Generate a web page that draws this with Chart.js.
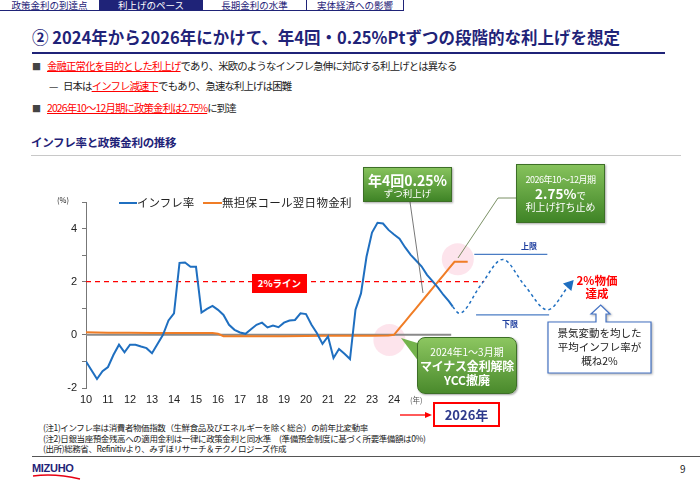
<!DOCTYPE html>
<html>
<head>
<meta charset="utf-8">
<script src="https://cdn.jsdelivr.net/npm/chart.js@4/dist/chart.umd.min.js"></script>
<style>
  html, body { margin: 0; padding: 0; background: #fff; }
  body { width: 700px; height: 485px; position: relative; overflow: hidden;
         font-family: "Noto Sans CJK JP", "Noto Sans", sans-serif; color: #222; }
  .t { position: absolute; white-space: nowrap; line-height: 1; }
  .tab { position: absolute; top: 0; height: 11px; border-right: 1px solid #1f2378; border-bottom: 1px solid #1f2378;
         font-size: 9.5px; line-height: 11px; color: #1f2378; text-align: center; box-sizing: border-box; }
  .tab.on { background: #1f2378; color: #fff; }
  .red { color: #ff0000; text-decoration: underline; text-decoration-color: #ff0000; }
  .green { position: absolute; box-sizing: border-box; color: #fff; text-align: center;
           background: linear-gradient(#86c25c, #3f8426); border: 1px solid #3d6f27;
           box-shadow: 1px 1px 2px rgba(0,0,0,0.35); }
  #chart { position: absolute; left: 0; top: 0; z-index: 1; }
  #over { position: absolute; left: 0; top: 0; z-index: 2; }
  .ov { z-index: 3; }
</style>
</head>
<body>
<!-- header tabs -->
<div class="tab" style="left:0;width:100px;">政策金利の到達点</div>
<div class="tab on" style="left:100px;width:103px;">利上げのペース</div>
<div class="tab" style="left:203px;width:104px;">長期金利の水準</div>
<div class="tab" style="left:307px;width:97px;">実体経済への影響</div>

<!-- title -->
<div class="t" style="left:32px;top:29px;font-size:16.5px;font-weight:bold;color:#1f2378;letter-spacing:0px;">② 2024年から2026年にかけて、年4回・0.25%Ptずつの段階的な利上げを想定</div>
<div style="position:absolute;left:32px;top:52px;width:633px;height:2px;background:#1f2378;"></div>

<!-- bullets -->
<div class="t" style="left:32px;top:61.5px;font-size:9px;color:#444;">■</div>
<div class="t" style="left:47px;top:61px;font-size:10.4px;letter-spacing:-0.85px;"><span class="red">金融正常化を目的とした利上げ</span>であり、米欧のようなインフレ急伸に対応する利上げとは異なる</div>
<div class="t" style="left:49px;top:81px;font-size:10.4px;color:#444;">—</div>
<div class="t" style="left:63px;top:81px;font-size:10.4px;letter-spacing:-0.85px;">日本は<span class="red">インフレ減速下</span>でもあり、急速な利上げは困難</div>
<div class="t" style="left:32px;top:103.5px;font-size:9px;color:#444;">■</div>
<div class="t" style="left:47px;top:102.5px;font-size:10.4px;letter-spacing:-0.85px;"><span class="red">2026年10～12月期に政策金利は2.75%</span>に到達</div>

<!-- section heading -->
<div class="t" style="left:31px;top:137px;font-size:11.5px;font-weight:bold;color:#1f2378;letter-spacing:-0.3px;">インフレ率と政策金利の推移</div>
<div style="position:absolute;left:31px;top:155px;width:650px;height:1px;background:#c8c8c8;"></div>

<canvas id="chart" width="700" height="485"></canvas>

<svg id="over" width="700" height="485">
  <!-- leader lines -->
  <line x1="410" y1="202" x2="423" y2="293" stroke="#555" stroke-width="0.8"/>
  <polyline points="516,198 498,198 458,258" fill="none" stroke="#58743e" stroke-width="0.8"/>
  <!-- YCC callout pointer -->
  <polygon points="401,338 424,345 419,362" fill="#74b34c"/>
  <!-- up-arrow callout -->
  <path d="M548,322 L596,322 L596,314 L591,314 L600.7,305 L610,314 L606,314 L606,322 L651,322 L651,373 L548,373 Z"
        fill="#fff" stroke="#4472c4" stroke-width="1.2" style="filter:drop-shadow(1px 1px 1px rgba(0,0,0,0.3))"/>
  <!-- 2026 arrow -->
  <line x1="400" y1="415" x2="426" y2="415" stroke="#ff0000" stroke-width="1.3"/>
  <polygon points="432,415 425,412 425,418" fill="#ff0000"/>
  <!-- logo swoosh -->
  <path d="M33,476 Q55,473 80,479" fill="none" stroke="#e60012" stroke-width="1.3"/>
</svg>

<!-- chart overlays -->
<div class="t ov" style="left:57px;top:196px;font-size:7.5px;">(%)</div>
<div class="ov" style="position:absolute;left:119px;top:202px;width:18px;height:2px;background:#1f6fc0;"></div>
<div class="t ov" style="left:137px;top:196.5px;font-size:11.5px;">インフレ率</div>
<div class="ov" style="position:absolute;left:203px;top:202px;width:19px;height:2px;background:#f07d26;"></div>
<div class="t ov" style="left:222px;top:196.5px;font-size:11.5px;letter-spacing:0.3px;">無担保コール翌日物金利</div>

<div class="t ov" style="left:252px;top:274px;width:55px;height:19px;background:#ff0000;color:#fff;font-weight:bold;font-size:9.5px;line-height:19px;text-align:center;">2%ライン</div>
<div class="t ov" style="left:410px;top:396px;font-size:7.5px;color:#555;">(年)</div>

<div class="green ov" style="left:363px;top:167px;width:89px;height:35px;">
  <div class="t" style="left:0;width:87px;top:5px;font-size:14px;font-weight:bold;">年4回0.25%</div>
  <div class="t" style="left:0;width:87px;top:21px;font-size:9.5px;">ずつ利上げ</div>
</div>
<div class="green ov" style="left:516px;top:164px;width:89px;height:59px;">
  <div class="t" style="left:0;width:87px;top:10px;font-size:9px;letter-spacing:-0.5px;">2026年10～12月期</div>
  <div class="t" style="left:0;width:87px;top:22px;font-size:13.5px;font-weight:bold;">2.75%<span style="font-size:9.5px;font-weight:normal;">で</span></div>
  <div class="t" style="left:0;width:87px;top:37px;font-size:10px;">利上げ打ち止め</div>
</div>
<div class="green ov" style="left:417px;top:337px;width:100px;height:57px;border-radius:8px;background:linear-gradient(#8cc660,#4a8a2c);">
  <div class="t" style="left:0;width:98px;top:9px;font-size:10px;">2024年1～3月期</div>
  <div class="t" style="left:0;width:98px;top:22px;font-size:12px;font-weight:bold;letter-spacing:-0.2px;">マイナス金利解除</div>
  <div class="t" style="left:0;width:98px;top:36px;font-size:12px;font-weight:bold;">YCC撤廃</div>
</div>

<div class="t ov" style="left:521px;top:242px;font-size:8px;font-weight:bold;color:#1f3f9f;">上限</div>
<div class="t ov" style="left:502px;top:320px;font-size:8px;font-weight:bold;color:#1f3f9f;">下限</div>
<div class="t ov" style="left:567px;top:275px;width:60px;text-align:center;font-size:11.5px;font-weight:bold;color:#ff0000;">2%物価</div>
<div class="t ov" style="left:567px;top:288px;width:60px;text-align:center;font-size:11.5px;font-weight:bold;color:#ff0000;">達成</div>
<div class="t ov" style="left:548px;top:328px;width:103px;text-align:center;font-size:10.5px;">景気変動を均した</div>
<div class="t ov" style="left:548px;top:342px;width:103px;text-align:center;font-size:10.5px;">平均インフレ率が</div>
<div class="t ov" style="left:548px;top:356px;width:103px;text-align:center;font-size:10.5px;">概ね2%</div>

<div class="t ov" style="left:433px;top:402px;width:67px;height:25px;box-sizing:border-box;border:2px solid #ff0000;text-align:center;line-height:21px;font-size:13px;font-weight:bold;color:#2e3a8c;">2026年</div>

<!-- notes -->
<div class="t" style="left:43px;top:423px;font-size:8.5px;letter-spacing:-0.4px;">(注1)インフレ率は消費者物価指数（生鮮食品及びエネルギーを除く総合）の前年比変動率</div>
<div class="t" style="left:43px;top:433.5px;font-size:8.5px;letter-spacing:-0.4px;">(注2)日銀当座預金残高への適用金利は一律に政策金利と同水準　(準備預金制度に基づく所要準備額は0%)</div>
<div class="t" style="left:43px;top:443.5px;font-size:8.5px;letter-spacing:-0.4px;">(出所)総務省、Refinitivより、みずほリサーチ＆テクノロジーズ作成</div>
<div style="position:absolute;left:32px;top:456px;width:668px;height:1px;background:#555;"></div>
<div class="t" style="left:32px;top:463px;font-size:11px;font-weight:bold;color:#1f2378;font-family:'Liberation Sans',Arial,sans-serif;letter-spacing:-0.3px;">MIZUHO</div>
<div class="t" style="left:680px;top:464px;font-size:10px;">9</div>

<script>
// years are calendar years minus 2000 (quarter steps), values in %
const inflYears = [10.00, 10.25, 10.50, 10.75, 11.00, 11.25, 11.50, 11.75, 12.00, 12.25, 12.50, 12.75,
  13.00, 13.25, 13.50, 13.75, 14.00, 14.25, 14.50, 14.75, 15.00, 15.25, 15.50, 15.75,
  16.00, 16.25, 16.50, 16.75, 17.00, 17.25, 17.50, 17.75, 18.00, 18.25, 18.50, 18.75,
  19.00, 19.25, 19.50, 19.75, 20.00, 20.25, 20.50, 20.75, 21.00, 21.25, 21.50, 21.75,
  22.00, 22.25, 22.50, 22.75, 23.00, 23.25, 23.50, 23.75, 24.00, 24.25, 24.50, 24.75,
  25.00, 25.25, 25.50, 25.75, 26.00, 26.25, 26.50, 26.67];
const inflValues = [-1.00, -1.33, -1.66, -1.37, -1.21, -0.75, -0.37, -0.66, -0.37, -0.37, -0.44, -0.50,
  -0.69, -0.34, 0.00, 0.54, 0.81, 2.71, 2.72, 2.56, 2.56, 0.84, 0.98, 1.09,
  0.94, 0.75, 0.38, 0.19, 0.09, 0.04, 0.21, 0.38, 0.46, 0.28, 0.35, 0.29,
  0.46, 0.54, 0.56, 0.81, 0.78, 0.38, 0.06, -0.34, -0.06, -0.87, -0.53, -0.71,
  -0.91, 0.95, 1.56, 2.94, 3.85, 4.22, 4.19, 3.95, 3.78, 3.62, 3.30, 3.02,
  2.80, 2.58, 2.26, 2.02, 1.78, 1.50, 1.26, 1.06];

// schematic outlook: inflation oscillating around 2%
const outlookYears = [26.67, 26.97, 27.95, 28.94, 29.92, 30.98, 31.97];
const outlookValues = [1.06, 0.81, 1.88, 2.84, 1.88, 0.94, 1.88];

const rateYears = [10.00, 11.00, 12.00, 13.00, 14.00, 15.00, 15.75, 16.00, 16.25, 17.00, 18.00, 19.00,
  20.00, 21.00, 22.00, 23.00, 23.75, 24.00, 24.25, 24.50, 24.75, 25.00, 25.25, 25.50,
  25.75, 26.00, 26.25, 26.50, 26.75, 27.35];
const rateValues = [0.10, 0.08, 0.08, 0.07, 0.07, 0.07, 0.07, 0.04, -0.05, -0.05, -0.05, -0.05,
  -0.04, -0.03, -0.03, -0.03, -0.02, 0.00, 0.25, 0.50, 0.75, 1.00, 1.25, 1.50,
  1.75, 2.00, 2.25, 2.50, 2.75, 2.75];

const targetLine = { years: [10, 28.1], value: 2 };
const upperBand = { years: [27.65, 30.97], value: 3.03 };
const lowerBand = { years: [27.73, 31.05], value: 0.75 };
const zeroLine = { years: [10, 26.6], value: 0 };
const highlightYears = [23.79, 26.9];
const highlightValues = [-0.19, 2.85];

const xTickYears = [10, 11, 12, 13, 14, 15, 16, 17, 18, 19, 20, 21, 22, 23, 24];
const yTickLabels = { '-2': '-2', '0': '0', '2': '2', '4': '4' };

const zip = (xs, ys) => xs.map((x, i) => ({ x: x, y: ys[i] }));
const flat = (xs, v) => xs.map(x => ({ x: x, y: v }));

const blue = '#1f6fc0';
const orange = '#f07d26';
const tickFont = { family: "'Liberation Sans', Arial, sans-serif", size: 11 };

new Chart(document.getElementById('chart'), {
    type: 'line',
    data: {
        datasets: [
            {
                data: zip(highlightYears, highlightValues),
                showLine: false,
                pointRadius: 16,
                pointBackgroundColor: 'rgba(252, 205, 220, 0.55)',
                pointBorderWidth: 0,
                order: 10
            },
            {
                data: flat(targetLine.years, targetLine.value),
                borderColor: '#ff0000',
                borderWidth: 1.3,
                borderDash: [5, 4],
                order: 9
            },
            {
                data: flat(zeroLine.years, zeroLine.value),
                borderColor: '#8a8a8a',
                borderWidth: 2,
                order: 8
            },
            {
                data: flat(upperBand.years, upperBand.value),
                borderColor: '#4a7cc4',
                borderWidth: 1.2,
                order: 7
            },
            {
                data: flat(lowerBand.years, lowerBand.value),
                borderColor: '#4a7cc4',
                borderWidth: 1.2,
                order: 7
            },
            {
                label: '無担保コール翌日物金利',
                data: zip(rateYears, rateValues),
                borderColor: orange,
                borderWidth: 2,
                order: 2
            },
            {
                data: zip(outlookYears, outlookValues),
                borderColor: blue,
                borderWidth: 1.5,
                borderDash: [3, 3],
                cubicInterpolationMode: 'monotone',
                pointRadius: outlookYears.map((_, i) => i === outlookYears.length - 1 ? 5 : 0),
                pointStyle: 'triangle',
                pointRotation: 42,
                pointBackgroundColor: blue,
                pointBorderColor: blue,
                clip: false,
                order: 1
            },
            {
                label: 'インフレ率',
                data: zip(inflYears, inflValues),
                borderColor: blue,
                borderWidth: 2,
                order: 0
            }
        ]
    },
    options: {
        responsive: false,
        animation: false,
        layout: { padding: { left: 46, top: 202, right: 108, bottom: 79 } },
        elements: { point: { radius: 0 }, line: { tension: 0 } },
        plugins: {
            legend: { display: false },
            tooltip: { enabled: false }
        },
        scales: {
            x: {
                type: 'linear',
                min: 10,
                max: 33,
                afterFit: (s) => { s.height = 18; },
                grid: { display: false, drawTicks: false },
                border: { display: false },
                ticks: {
                    stepSize: 1,
                    autoSkip: false,
                    maxRotation: 0,
                    padding: 5,
                    color: '#222',
                    font: tickFont,
                    callback: (v) => xTickYears.includes(v) ? String(v) : ''
                }
            },
            y: {
                min: -2,
                max: 5,
                afterFit: (s) => { s.width = 40; },
                grid: { drawOnChartArea: false, drawTicks: true, tickLength: 4, color: '#777' },
                border: { display: true, color: '#777', width: 1 },
                ticks: {
                    stepSize: 1,
                    padding: 5,
                    color: '#222',
                    font: tickFont,
                    callback: (v) => yTickLabels[String(v)] || ''
                }
            }
        }
    }
});
</script>
</body>
</html>
